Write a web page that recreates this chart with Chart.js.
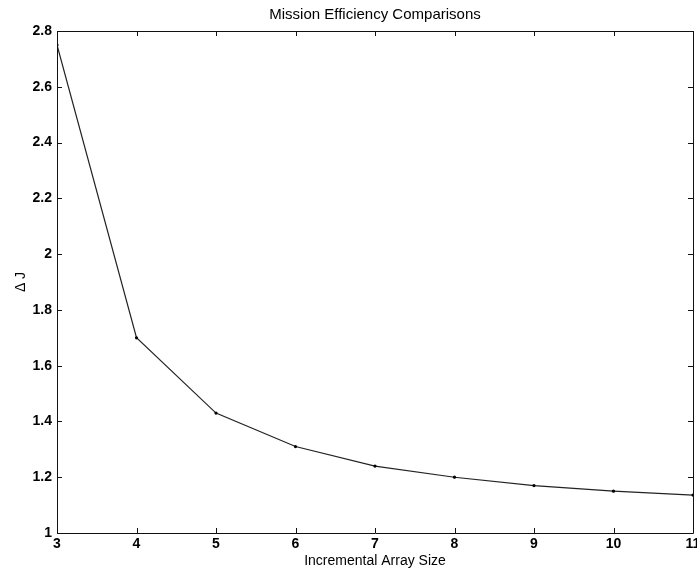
<!DOCTYPE html>
<html>
<head>
<meta charset="utf-8">
<script src="https://cdn.jsdelivr.net/npm/chart.js@4/dist/chart.umd.min.js"></script>
<style>
	html, body { margin: 0; padding: 0; background: #fff; overflow: hidden; }
	canvas { display: block; }
</style>
</head>
<body>
<canvas id="efficiencyChart" width="720" height="571"></canvas>
<script>
// array sizes and the matching delta-J values
const arraySizes = [3, 4, 5, 6, 7, 8, 9, 10, 11];
const deltaJ = [2.75, 1.70, 1.43, 1.31, 1.24, 1.20, 1.17, 1.15, 1.136];

const xTicks = [3, 4, 5, 6, 7, 8, 9, 10, 11];
const yTicks = [1, 1.2, 1.4, 1.6, 1.8, 2, 2.2, 2.4, 2.6, 2.8];

const tickFont = { family: "'Liberation Sans', Arial, sans-serif", size: 14, weight: "bold" };
const labelFont = { family: "'Liberation Sans', Arial, sans-serif", size: 14, weight: "normal" };

// box around the plot with inward ticks on every side
let boxPlugin = {
	id: "matlabBox",
	afterDatasetsDraw: function (chart) {
		let ctx = chart.ctx;
		let a = chart.chartArea;
		let xs = chart.scales.x, ys = chart.scales.y;
		let len = 5;
		ctx.save();
		ctx.strokeStyle = "#111";
		ctx.lineWidth = 1;
		ctx.beginPath();
		ctx.rect(Math.round(a.left) + 0.5, Math.round(a.top) + 0.5,
			Math.round(a.right - a.left), Math.round(a.bottom - a.top));
		xTicks.forEach(function (v) {
			let px = Math.round(xs.getPixelForValue(v)) + 0.5;
			ctx.moveTo(px, a.bottom); ctx.lineTo(px, a.bottom - len);
			ctx.moveTo(px, a.top); ctx.lineTo(px, a.top + len);
		});
		yTicks.forEach(function (v) {
			let py = Math.round(ys.getPixelForValue(v)) + 0.5;
			ctx.moveTo(a.left, py); ctx.lineTo(a.left + len, py);
			ctx.moveTo(a.right, py); ctx.lineTo(a.right - len, py);
		});
		ctx.stroke();
		ctx.restore();
	}
};

let chart = new Chart("efficiencyChart", {
	type: "line",
	data: {
		datasets: [{
			data: arraySizes.map((x, i) => ({ x: x, y: deltaJ[i] })),
			borderColor: "#222",
			borderWidth: 1.2,
			pointRadius: 1.6,
			pointBackgroundColor: "#000",
			pointBorderWidth: 0,
			fill: false,
			tension: 0
		}]
	},
	options: {
		responsive: false,
		animation: false,
		layout: { padding: { left: 0, right: 27, top: 0, bottom: 0 } },
		plugins: {
			legend: { display: false },
			tooltip: { enabled: false },
			title: {
				display: true,
				text: "Mission Efficiency Comparisons",
				fullSize: false,
				color: "#000",
				font: { family: "'Liberation Sans', Arial, sans-serif", size: 15, weight: "normal" },
				padding: { top: 6, bottom: 7 }
			}
		},
		scales: {
			x: {
				type: "linear",
				min: 3, max: 11,
				afterBuildTicks: function (s) { s.ticks = xTicks.map(v => ({ value: v })); },
				afterFit: function (s) { s.height = 38; },
				grid: { display: false, drawTicks: false },
				border: { display: false },
				ticks: { color: "#000", font: tickFont, padding: 3, maxRotation: 0 },
				title: {
					display: true,
					text: "Incremental Array Size",
					color: "#000",
					font: labelFont,
					padding: { top: 0, bottom: 1 }
				}
			},
			y: {
				min: 1, max: 2.8,
				afterBuildTicks: function (s) { s.ticks = yTicks.map(v => ({ value: v })); },
				afterFit: function (s) { s.width = 57; },
				grid: { display: false, drawTicks: false },
				border: { display: false },
				ticks: {
					color: "#000", font: tickFont, padding: 5,
					callback: function (v) { return String(Number(v.toFixed(1))); }
				},
				title: {
					display: true,
					text: "Δ J",
					color: "#000",
					font: labelFont,
					padding: { top: 13, bottom: 0 }
				}
			}
		}
	},
	plugins: [boxPlugin]
});
</script>
</body>
</html>
